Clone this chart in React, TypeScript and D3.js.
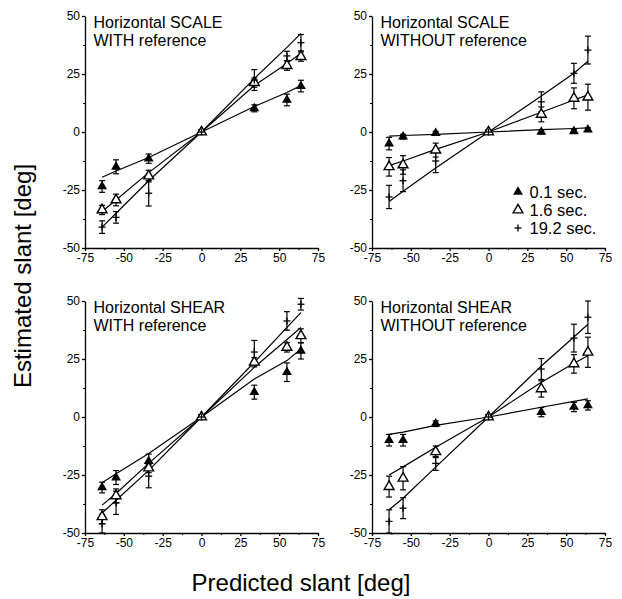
import React, { useEffect, useRef } from "react";
import * as d3 from "d3";

// predicted slant (deg) at which each condition was measured
const predicted = [-64, -55, -34, 0, 34, 55, 64];
const durations = ["0.1 sec.", "1.6 sec.", "19.2 sec."];
const xTicks = [-75, -50, -25, 0, 25, 50, 75];
const yTicks = [-50, -25, 0, 25, 50];
const xMinor = [-62.5, -37.5, -12.5, 12.5, 37.5, 62.5];
const yMinor = [-37.5, -12.5, 12.5, 37.5];

const titles = [
  ["Horizontal SCALE", "WITH reference"],
  ["Horizontal SCALE", "WITHOUT reference"],
  ["Horizontal SHEAR", "WITH reference"],
  ["Horizontal SHEAR", "WITHOUT reference"],
];

// rows: 0.1 sec, 1.6 sec, 19.2 sec
const scaleWithMean = [
  [-23.5, -15, -11.5, 0, 10.2, 13.8, 19.8],
  [-33.6, -29.3, -19, 0, 21.3, 28.6, 32.5],
  [-41, -36.8, -26.4, 0, 22.4, 32.8, 38.5],
];
const scaleWithErr = [
  [2.5, 3, 2, 1, 1.5, 2.5, 2.5],
  [2, 2.5, 2.5, 1, 2, 2, 2],
  [2.7, 2.5, 5.5, 1, 4.5, 2, 3.5],
];
const scaleWithFit = [
  [-19.5, -16.8, -11, 0, 11, 17, 20],
  [-34.3, -29.3, -17.5, 0, 20, 29.5, 34],
  [-41, -35, -21, 0, 23, 36.5, 42.5],
];

const scaleWithoutMean = [
  [-5, -2, -0.5, 0, 0, 0.3, 1],
  [-15, -14.2, -7.8, 0, 7.6, 14.5, 15],
  [-28, -21, -12.5, 0, 13, 25.3, 35.3],
];
const scaleWithoutErr = [
  [2.7, 1, 0.8, 0.8, 0.8, 0.8, 0.8],
  [4, 4, 3, 1, 3.2, 4.5, 5.6],
  [5, 4.7, 5, 1, 4.3, 4.3, 6],
];
const scaleWithoutFit = [
  [-1.8, -1.5, -1, 0, 1, 1.5, 1.8],
  [-14.5, -12.5, -7.5, 0, 8.5, 13.8, 16],
  [-30, -25.5, -15.5, 0, 15.5, 25.3, 30.5],
];

const shearWithMean = [
  [-30.4, -26.1, -19, 0, 10.7, 19.3, 28.5],
  [-43, -34, -22, 0, 23.6, 30, 35],
  [-46, -37, -25.5, 0, 28, 41.4, 48.6],
];
const shearWithErr = [
  [2.3, 3, 3, 1, 3, 4, 3.5],
  [3, 3, 2, 1, 2, 2, 3],
  [4, 5, 5, 1, 5, 4, 2.5],
];
const shearWithFit = [
  [-28.3, -24.5, -15.7, 0, 16.4, 24.3, 29.3],
  [-38, -33, -20, 0, 21.4, 33.4, 38.6],
  [-41.4, -35.9, -23, 0, 23.6, 38.6, 45],
];

const shearWithoutMean = [
  [-10, -10, -2.9, 0, 2.1, 4.3, 5],
  [-30, -26.4, -15, 0, 12.1, 22.9, 27.9],
  [-45, -39.3, -20, 0, 20.7, 34, 43],
];
const shearWithoutErr = [
  [2.5, 2.5, 1.2, 1, 2, 2, 2],
  [4.5, 5, 2.5, 1, 3.5, 4, 6.5],
  [5, 4.5, 3, 1, 4.5, 6, 7],
];
const shearWithoutFit = [
  [-7.5, -6.5, -3.6, 0, 4.2, 6.7, 7.8],
  [-25, -21.5, -13, 0, 15, 23.2, 26.4],
  [-40, -35, -21.6, 0, 22, 34.5, 40],
];

const FONT = "'Liberation Sans', Arial, Helvetica, sans-serif";
const W = 622;
const H = 599;
const PW = 233;
const PH = 232;
const lefts = [85, 372];
const tops = [16, 301];

export default function App() {
  const ref = useRef<SVGSVGElement>(null);

  useEffect(() => {
    const svg = d3.select(ref.current);
    svg.selectAll("*").remove();
    svg.attr("font-family", FONT);

    const panels = [
      { mean: scaleWithMean, err: scaleWithErr, fit: scaleWithFit },
      { mean: scaleWithoutMean, err: scaleWithoutErr, fit: scaleWithoutFit },
      { mean: shearWithMean, err: shearWithErr, fit: shearWithFit },
      { mean: shearWithoutMean, err: shearWithoutErr, fit: shearWithoutFit },
    ];

    const tri = d3.symbol().type(d3.symbolTriangle).size(42);

    const drawMarker = (g: any, kind: number, cx: number, cy: number) => {
      if (kind === 0) {
        g.append("path").attr("d", tri()).attr("transform", `translate(${cx},${cy})`).attr("fill", "#000");
      } else if (kind === 1) {
        g.append("path").attr("d", tri()).attr("transform", `translate(${cx},${cy})`)
          .attr("fill", "#fff").attr("stroke", "#000").attr("stroke-width", 1.4);
      } else {
        g.append("line").attr("x1", cx - 3.5).attr("x2", cx + 3.5).attr("y1", cy).attr("y2", cy)
          .attr("stroke", "#000").attr("stroke-width", 1.3);
        g.append("line").attr("x1", cx).attr("x2", cx).attr("y1", cy - 3.5).attr("y2", cy + 3.5)
          .attr("stroke", "#000").attr("stroke-width", 1.3);
      }
    };

    panels.forEach((p, i) => {
      const x0 = lefts[i % 2];
      const y0 = tops[Math.floor(i / 2)];
      const x = d3.scaleLinear().domain([-75, 75]).range([x0, x0 + PW]);
      const y = d3.scaleLinear().domain([-50, 50]).range([y0 + PH, y0]);
      const g = svg.append("g");

      // minor ticks
      g.append("g").attr("transform", `translate(${x0},0)`)
        .call(d3.axisLeft(y).tickValues(yMinor).tickSize(2).tickSizeOuter(0).tickFormat(() => ""))
        .call((a: any) => a.select(".domain").remove());
      g.append("g").attr("transform", `translate(0,${y0 + PH})`)
        .call(d3.axisBottom(x).tickValues(xMinor).tickSize(2).tickSizeOuter(0).tickFormat(() => ""))
        .call((a: any) => a.select(".domain").remove());

      // major axes
      g.append("g").attr("transform", `translate(${x0},0)`)
        .call(d3.axisLeft(y).tickValues(yTicks).tickSize(3).tickPadding(2).tickSizeOuter(0)
          .tickFormat((d: any) => String(d)))
        .attr("font-family", FONT).attr("font-size", 12)
        .call((a: any) => a.selectAll("path,line").attr("stroke-width", 1.3));
      g.append("g").attr("transform", `translate(0,${y0 + PH})`)
        .call(d3.axisBottom(x).tickValues(xTicks).tickSize(3).tickPadding(2).tickSizeOuter(0)
          .tickFormat((d: any) => String(d)))
        .attr("font-family", FONT).attr("font-size", 12)
        .call((a: any) => a.selectAll("path,line").attr("stroke-width", 1.3));

      // title
      titles[i].forEach((t, k) => {
        g.append("text").attr("x", x0 + 8.5).attr("y", y0 + 12 + k * 17.5)
          .attr("font-size", 16).attr("fill", "#000").text(t);
      });

      const line = d3.line<number>().x((_, j) => x(predicted[j])).y((d) => y(d));

      // fitted lines
      p.fit.forEach((f) => {
        g.append("path").attr("d", line(f)).attr("fill", "none")
          .attr("stroke", "#000").attr("stroke-width", 1.2);
      });

      // error bars
      p.mean.forEach((m, s) => {
        m.forEach((v, j) => {
          const e = p.err[s][j];
          const cx = x(predicted[j]);
          g.append("line").attr("x1", cx).attr("x2", cx).attr("y1", y(v - e)).attr("y2", y(v + e))
            .attr("stroke", "#000").attr("stroke-width", 1.2);
          [v - e, v + e].forEach((c) => {
            g.append("line").attr("x1", cx - 3).attr("x2", cx + 3).attr("y1", y(c)).attr("y2", y(c))
              .attr("stroke", "#000").attr("stroke-width", 1.2);
          });
        });
      });

      // markers
      p.mean.forEach((m, s) => {
        m.forEach((v, j) => drawMarker(g, s, x(predicted[j]), y(v)));
      });

      // legend in the second panel
      if (i === 1) {
        durations.forEach((d, s) => {
          const ly = y0 + 176 + s * 18;
          drawMarker(g, s, x0 + 146, ly);
          g.append("text").attr("x", x0 + 157.5).attr("y", ly + 5.5)
            .attr("font-size", 16.5).attr("fill", "#000").text(d);
        });
      }
    });

    svg.append("text").attr("transform", "translate(31,276) rotate(-90)")
      .attr("text-anchor", "middle").attr("font-size", 24).attr("fill", "#000")
      .text("Estimated slant [deg]");
    svg.append("text").attr("x", 301).attr("y", 591)
      .attr("text-anchor", "middle").attr("font-size", 24).attr("fill", "#000")
      .text("Predicted slant [deg]");
  }, []);

  return (
    <svg ref={ref} width={W} height={H}
      style={{ position: "absolute", left: 0, top: 0, background: "#fff" }} />
  );
}
